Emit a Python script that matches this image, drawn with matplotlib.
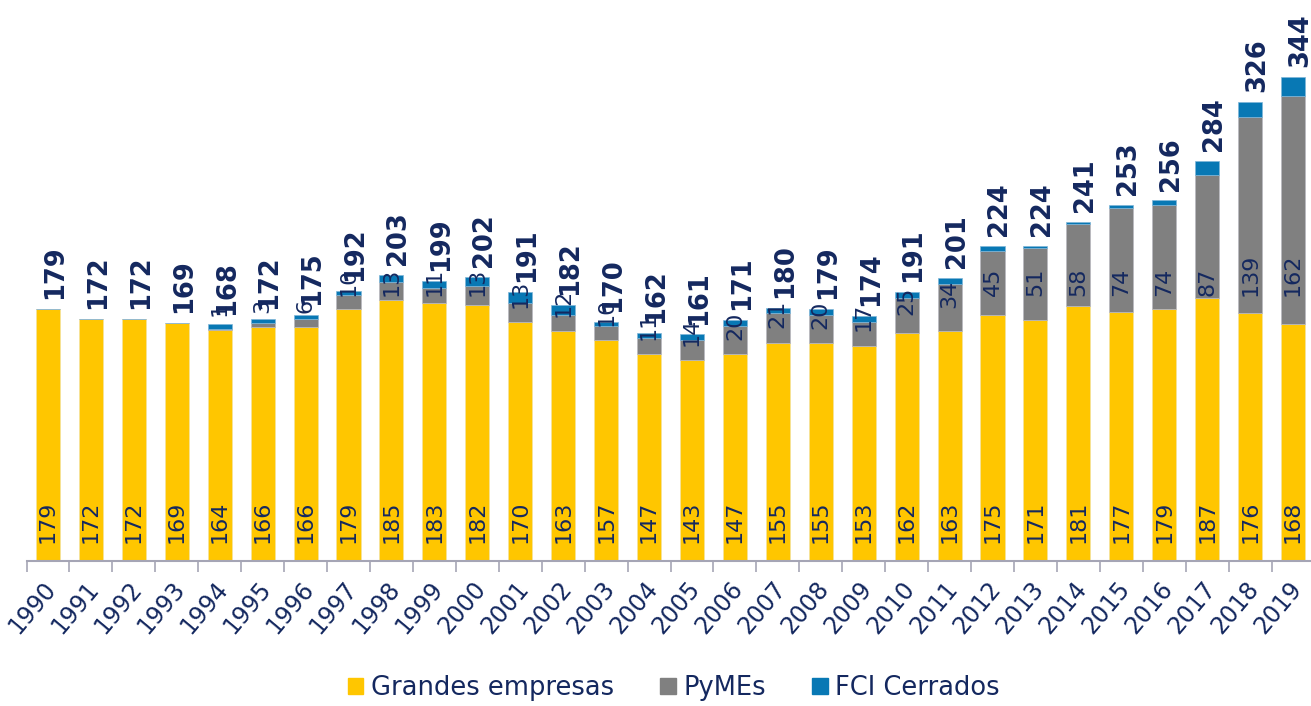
import numpy as np
import matplotlib.pyplot as plt
from matplotlib.patches import Patch
from matplotlib.transforms import ScaledTranslation

plt.rcParams['font.family'] = ['DejaVu Sans']

# Values
years = [str(y) for y in range(1990, 2020)]
grandes = [179, 172, 172, 169, 164, 166, 166, 179, 185, 183, 182, 170, 163, 157, 147,
           143, 147, 155, 155, 153, 162, 163, 175, 171, 181, 177, 179, 187, 176, 168]
pymes = [0, 0, 0, 0, 1, 3, 6, 10, 13, 11, 13, 13, 12, 10, 11,
         14, 20, 21, 20, 17, 25, 34, 45, 51, 58, 74, 74, 87, 139, 162]
totals = [179, 172, 172, 169, 168, 172, 175, 192, 203, 199, 202, 191, 182, 170, 162,
          161, 171, 180, 179, 174, 191, 201, 224, 224, 241, 253, 256, 284, 326, 344]
fci = [t - g - p for t, g, p in zip(totals, grandes, pymes)]

yellow = '#FFC600'
grey = '#808080'
blue = '#0878B4'
navy = '#14285F'
axis_col = '#A5A5B5'
narrow = ['Liberation Sans Narrow', 'DejaVu Sans']

fig = plt.figure(figsize=(13.11, 7.06), dpi=100)
ax = fig.add_axes([26.5 / 1311, 145 / 706, 1288 / 1311, 507 / 706])

x = np.arange(len(years))
w = 0.56
g = np.array(grandes)
p = np.array(pymes)
f = np.array(fci)

ax.bar(x, g, w, color=yellow, edgecolor='#F3E3A0', linewidth=0.5)
ax.bar(x, p, w, bottom=g, color=grey, edgecolor='#B8B8C0', linewidth=0.5)
ax.bar(x, f, w, bottom=g + p, color=blue, edgecolor='#7FB6D8', linewidth=0.5)

# labels inside the bars and totals on top
for i in x:
    ax.annotate(str(grandes[i]), (i, 0), xytext=(0, 13), textcoords='offset points',
                rotation=90, ha='center', va='bottom', fontsize=16, color=navy,
                family=narrow)
    if pymes[i] > 0:
        yl = min(max(g[i] + p[i] / 2, g[i] + 10), 188)
        ax.text(i, yl, str(pymes[i]), rotation=90, ha='center', va='bottom',
                fontsize=16, color=navy, family=narrow)
    ax.annotate(str(totals[i]), (i, totals[i]), xytext=(5, 7), textcoords='offset points',
                rotation=90, ha='center', va='bottom', fontsize=18.5, fontweight='bold',
                color=navy, annotation_clip=False)

ax.set_xlim(-0.5, len(years) - 0.5)
ax.set_ylim(0, 360)
ax.set_yticks([])
for s in ['top', 'right', 'left']:
    ax.spines[s].set_visible(False)
ax.spines['bottom'].set_color(axis_col)
ax.spines['bottom'].set_linewidth(1.5)

ax.set_xticks(x)
ax.set_xticklabels(years, rotation=50, ha='right', va='center', rotation_mode='anchor',
                   fontsize=17, color=navy)
ax.tick_params(axis='x', which='major', length=0, pad=17)
shift = ScaledTranslation(4 / 100, 0, fig.dpi_scale_trans)
for lbl in ax.get_xticklabels():
    lbl.set_transform(lbl.get_transform() + shift)
ax.set_xticks(np.arange(len(years) + 1) - 0.5, minor=True)
ax.tick_params(axis='x', which='minor', length=8, width=1.2, color=axis_col)

handles = [Patch(color=yellow, label='Grandes empresas'),
           Patch(color=grey, label='PyMEs'),
           Patch(color=blue, label='FCI Cerrados')]
fig.legend(handles=handles, loc='lower center', bbox_to_anchor=(0.514, -0.026), ncol=3,
           frameon=False, fontsize=18.5, handlelength=0.6, handleheight=0.6,
           handletextpad=0.3, columnspacing=1.8, labelcolor=navy)

fig.savefig('out.png', dpi=100)
